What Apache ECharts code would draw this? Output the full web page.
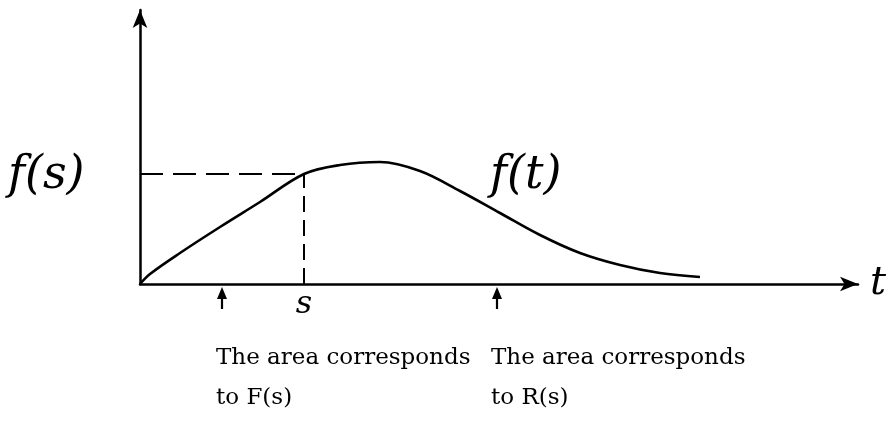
<!DOCTYPE html>
<html><head><meta charset="utf-8">
<script src="https://cdn.jsdelivr.net/npm/echarts@6/dist/echarts.min.js"></script>
<style>html,body{margin:0;padding:0;background:#fff}#c{width:891px;height:432px}</style>
</head><body><div id="c"></div>
<script>
// t values and f(t) values
const tValues = [0, 0.10, 0.40, 0.80, 1.20, 1.64, 2.00, 2.40, 2.80, 3.20, 3.60, 4.00, 4.40, 4.80, 5.20, 5.60];
const fValues = [0, 0.10, 0.31, 0.57, 0.82, 1.10, 1.19, 1.22, 1.13, 0.93, 0.71, 0.49, 0.31, 0.19, 0.11, 0.07];
const sValue = 1.64;
const fsValue = 1.10;
const arrowPositions = [0.82, 3.57];
const captionsLine1 = ['The area corresponds', 'The area corresponds'];
const captionsLine2 = ['to F(s)', 'to R(s)'];
const xMax = 7.18, yMax = 2.74;

const serif = '"DejaVu Serif", "Liberation Serif", serif';
const chart = echarts.init(document.getElementById('c'));
chart.setOption({
  animation: false,
  grid: {left: 140, top: 10, right: 33, bottom: 148},
  xAxis: {
    type: 'value', min: 0, max: xMax,
    axisLine: {show: true, lineStyle: {color: '#000', width: 2.5}, symbol: ['none', 'arrow'], symbolSize: [11, 18]},
    axisTick: {show: false}, axisLabel: {show: false}, splitLine: {show: false},
    name: 't', nameLocation: 'end', nameGap: 12,
    nameTextStyle: {fontFamily: serif, fontStyle: 'italic', fontSize: 40, color: '#000', verticalAlign: 'middle'}
  },
  yAxis: {
    type: 'value', min: 0, max: yMax,
    axisLine: {show: true, lineStyle: {color: '#000', width: 2.5}, symbol: ['none', 'arrow'], symbolSize: [11, 18]},
    axisTick: {show: false}, axisLabel: {show: false}, splitLine: {show: false}
  },
  series: [{
    type: 'line', data: tValues.map((t, i) => [t, fValues[i]]),
    smooth: 0.35, showSymbol: false, clip: false,
    lineStyle: {color: '#000', width: 2.6},
    markLine: {
      silent: true, symbol: 'none', label: {show: false},
      data: [
        [{coord: [0, fsValue], lineStyle: {color: '#000', width: 2, type: [23, 10]}}, {coord: [sValue, fsValue]}],
        [{coord: [sValue, 0], lineStyle: {color: '#000', width: 2, type: [16, 8]}}, {coord: [sValue, fsValue]}]
      ]
    }
  }]
});

function place() {
  const g = [];
  const p = (x, y) => chart.convertToPixel({gridIndex: 0}, [x, y]);
  const fsPt = p(0, fsValue);
  g.push({type: 'text', x: 8, y: fsPt[1] + 2, style: {text: 'f(s)', font: 'italic 46px ' + serif, fill: '#000', verticalAlign: 'middle'}});
  const ftPt = p(3.50, fsValue);
  g.push({type: 'text', x: ftPt[0], y: ftPt[1] + 2, style: {text: 'f(t)', font: 'italic 46px ' + serif, fill: '#000', verticalAlign: 'middle'}});
  const sPt = p(sValue, 0);
  g.push({type: 'text', x: sPt[0], y: sPt[1] + 21, style: {text: 's', font: 'italic 32px ' + serif, fill: '#000', align: 'center', verticalAlign: 'middle'}});
  arrowPositions.forEach((a, i) => {
    const ap = p(a, 0);
    g.push({type: 'line', shape: {x1: ap[0], y1: ap[1] + 12, x2: ap[0], y2: ap[1] + 25}, style: {stroke: '#000', lineWidth: 2.2}});
    g.push({type: 'polygon', shape: {points: [[ap[0], ap[1] + 3], [ap[0] - 5, ap[1] + 15], [ap[0] + 5, ap[1] + 15]]}, style: {fill: '#000'}});
    g.push({type: 'text', x: ap[0] - 6, y: ap[1] + 74, style: {text: captionsLine1[i], font: '23px ' + serif, fill: '#000', verticalAlign: 'middle'}});
    g.push({type: 'text', x: ap[0] - 6, y: ap[1] + 114, style: {text: captionsLine2[i], font: '23px ' + serif, fill: '#000', verticalAlign: 'middle'}});
  });
  chart.setOption({graphic: g});
}
place();
</script></body></html>
